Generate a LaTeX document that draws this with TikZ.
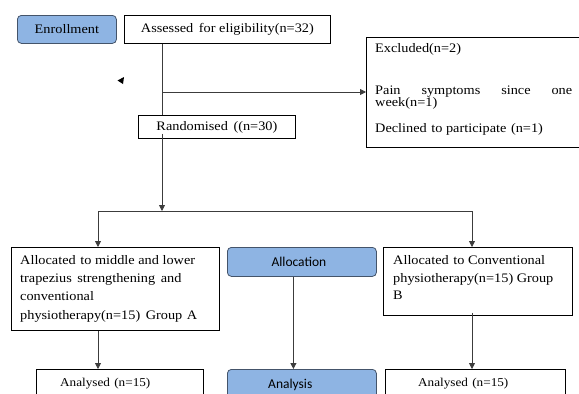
\documentclass[tikz,border=0pt]{standalone}
\usepackage{fontspec}
\setmainfont[FakeStretch=1.1]{Liberation Serif}
\newfontfamily\calfont{Carlito}
\usetikzlibrary{arrows.meta}
\definecolor{bluefill}{HTML}{8EB4E3}
\definecolor{blueedge}{HTML}{44546A}
\definecolor{linegrey}{HTML}{3C3C3C}
\begin{document}
\begin{tikzpicture}[x=1pt,y=-1pt,
  box/.style={draw=black, line width=0.8pt, fill=white, inner sep=0pt, anchor=north west, font=\fontsize{13}{15}\selectfont},
  bluebox/.style={draw=blueedge, line width=0.8pt, fill=bluefill, rounded corners=4pt, inner sep=0pt, anchor=north west},
  txt/.style={inner sep=0pt, anchor=base west, font=\fontsize{13}{15}\selectfont},
  smalltxt/.style={inner sep=0pt, anchor=base west, font=\fontsize{12}{14}\selectfont},
  sanstxt/.style={font=\calfont\fontsize{13.5}{15}\selectfont},
  link/.style={draw=linegrey, line width=0.8pt},
  arrow/.style={link, -{Triangle[length=6pt,width=6pt]}}]
\useasboundingbox (0,0) rectangle (579,394);

% top row
\node[bluebox, minimum width=99pt, minimum height=28pt, font=\fontsize{13}{15}\selectfont] (enroll) at (17,15) {Enrollment};
\node[box, minimum width=206pt, minimum height=28pt] (assess) at (124,15) {Assessed\hspace{2pt} for eligibility(n=32)};

% excluded box
\node[box, minimum width=216pt, minimum height=110pt] (excl) at (366,37) {};
\node[txt] (ex1) at (375,52) {Excluded(n=2)};
\node[txt] (ex2) at (375,94) {\makebox[197pt][s]{Pain symptoms since one}};
\node[txt] (ex3) at (375,106) {week(n=1)};
\node[txt] (ex4) at (375,132) {Declined\hspace{1pt} to participate\hspace{1pt} (n=1)};

% randomised
\node[box, minimum width=157pt, minimum height=23pt] (random) at (138,115) {Randomised\hspace{2pt} ((n=30)};

% stray arrowhead
\fill[black] (117.5,80.5) -- (124,77) -- (123,84) -- cycle;

% group boxes
\node[box, minimum width=208pt, minimum height=83pt] (grpA) at (11,247) {};
\node[txt] (a1) at (20,264) {Allocated\hspace{1pt} to middle and lower};
\node[txt] (a2) at (20,282.3) {trapezius\hspace{2pt} strengthening\hspace{2pt} and};
\node[txt] (a3) at (20,300.6) {conventional};
\node[txt] (a4) at (20,319) {physiotherapy(n=15)\hspace{2pt} Group\hspace{1pt} A};

\node[bluebox, minimum width=149pt, minimum height=29pt, sanstxt] (alloc) at (227,247) {Allocation\hspace*{6pt}};

\node[box, minimum width=189pt, minimum height=68pt] (grpB) at (383,247) {};
\node[txt] (b1) at (393,264) {Allocated\hspace{1pt} to Conventional};
\node[txt] (b2) at (393,282) {physiotherapy(n=15) Group};
\node[txt] (b3) at (393,299) {B};

% analysis row
\node[box, minimum width=167pt, minimum height=40pt] (anaA) at (36,369) {};
\node[smalltxt] (anaAt) at (60,386) {Analysed\hspace{1pt} (n=15)};
\node[bluebox, minimum width=149pt, minimum height=40pt] (anaM) at (227,369) {};
\node[inner sep=0pt, anchor=base west, sanstxt] (anaMt) at (268,388) {Analysis};
\node[box, minimum width=180pt, minimum height=40pt] (anaB) at (385,369) {};
\node[smalltxt] (anaBt) at (418,386) {Analysed\hspace{1pt} (n=15)};

% connectors
\coordinate (trunk) at (162,92);
\coordinate (split) at (162,211);
\coordinate (splitL) at (98,211);
\coordinate (splitR) at (472,211);
\draw[link] (assess.south -| trunk) -- (random.north -| trunk);
\draw[arrow] (trunk) -- (trunk -| excl.west);
\draw[arrow] ([yshift=5pt]random.south -| split) -- (split);
\draw[link] (splitL) -- (splitR);
\draw[arrow] (splitL) -- (grpA.north -| splitL);
\draw[arrow] (splitR) -- (grpB.north -| splitR);
\draw[arrow] (grpA.south -| splitL) -- (anaA.north -| splitL);
\draw[arrow] ([xshift=-8.5pt]alloc.south) -- ([xshift=-8.5pt]alloc.south |- anaM.north);
\draw[arrow] ([yshift=3pt]grpB.south -| splitR) -- (anaB.north -| splitR);
\end{tikzpicture}
\end{document}
